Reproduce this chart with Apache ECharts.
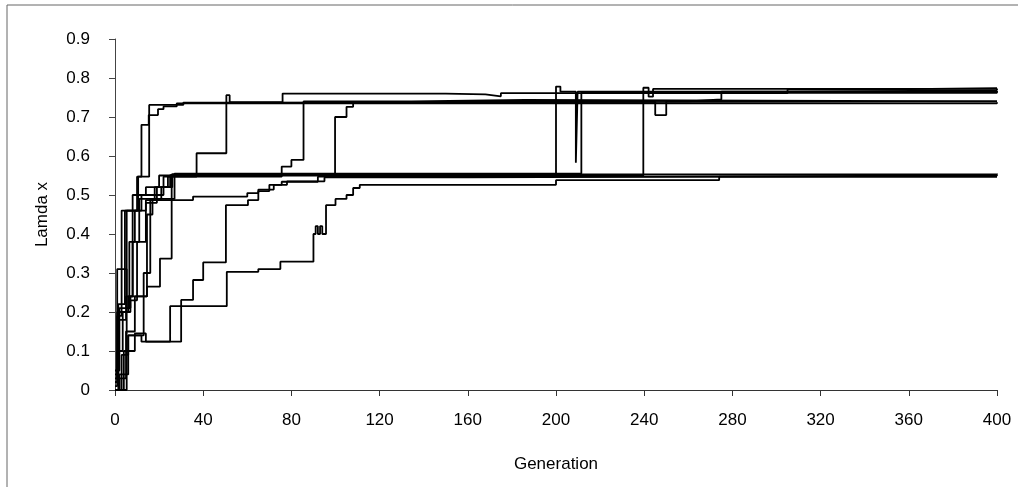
<!DOCTYPE html>
<html>
<head>
<meta charset="utf-8">
<script src="https://cdn.jsdelivr.net/npm/echarts@6/dist/echarts.min.js"></script>
<style>
  html, body { margin: 0; padding: 0; background: #fff; }
  #chart { width: 1026px; height: 492px; }
</style>
</head>
<body>
<div id="chart"></div>
<script>
// Lamda x of the best individual per generation, one array per run.
// Each point [generation, value] is the value held from that generation on.
const run1 = [[0,0.03],[1,0.19],[3,0.46],[10,0.547],[15.5,0.731],[31,0.737],[60,0.74],[400,0.741]];
const run2 = [[0,0.01],[1,0.31],[5.3,0.21],[6.5,0.38],[9,0.46],[10.5,0.547],[12,0.68],[15.3,0.705],[19.5,0.72],[22,0.727],[28,0.735],[400,0.738]];
const run3 = [[0,0],[1.5,0.18],[5,0.24],[8,0.46],[11,0.49],[18,0.5],[22,0.547],[37,0.607],[50.5,0.756],[52,0.738],[76,0.76],[150,0.758],[168,0.753],[175,0.761],[305,0.771],[350,0.774],[400,0.774]];
const run4 = [[0,0],[5.3,0.46],[9,0.46],[12,0.5],[18,0.52],[24,0.547],[75.6,0.573],[80,0.59],[85.5,0.74],[134.5,0.744],[186,0.74],[400,0.741]];
const run5 = [[0,0.05],[2,0.21],[7,0.24],[14.5,0.45],[17,0.49],[21,0.52],[25,0.551],[99.8,0.70],[105,0.726],[108,0.739],[245,0.705],[250,0.74],[260,0.745],[275,0.765],[305,0.768],[400,0.769]];
const run6 = [[0,0.02],[1,0.1],[3.5,0.2],[7,0.23],[10,0.38],[14,0.48],[19,0.52],[26,0.553],[200,0.778],[202,0.765],[209,0.583],[209.8,0.765],[400,0.768]];
const run7 = [[0,0],[2,0.04],[6,0.14],[12,0.14],[13,0.3],[16,0.49],[27,0.555],[211.5,0.762],[400,0.766]];
const run8 = [[0,0.02],[1.5,0.22],[4.5,0.46],[8,0.5],[14,0.52],[20,0.55],[239.6,0.775],[242,0.752],[244,0.772],[400,0.769]];
const run9 = [[0,0],[3,0.09],[6,0.14],[12,0.124],[25,0.215],[50.7,0.303],[65,0.31],[75,0.329],[90,0.40],[91,0.42],[92,0.40],[93,0.42],[94,0.40],[95.7,0.474],[100,0.49],[105,0.50],[108,0.518],[111,0.526],[200,0.538],[274,0.547],[400,0.547]];
const run10 = [[0,0],[4,0.1],[9,0.145],[14,0.124],[30,0.231],[35.4,0.282],[40,0.327],[50.3,0.474],[60.3,0.487],[65,0.51],[70,0.526],[75.6,0.534],[92,0.547],[400,0.548]];
const run11 = [[0,0.04],[1,0.2],[6,0.24],[8,0.38],[11,0.46],[14,0.487],[35.4,0.496],[60,0.505],[65,0.514],[72,0.526],[78,0.535],[95,0.545],[160,0.55],[400,0.552]];
const run12 = [[0,0],[2,0.03],[5,0.15],[9,0.24],[14.5,0.265],[20.4,0.337],[25.7,0.553],[400,0.555]];

const runs = [run1, run2, run3, run4, run5, run6, run7, run8, run9, run10, run11, run12];

const xTitle = 'Generation';
const yTitle = 'Lamda x';

const font = '"Liberation Sans", Arial, sans-serif';
const chart = echarts.init(document.getElementById('chart'), null, { renderer: 'canvas' });

chart.setOption({
  animation: false,
  backgroundColor: '#ffffff',
  grid: { left: 115, right: 29, top: 39, bottom: 102, containLabel: false },
  xAxis: {
    type: 'value',
    min: 0, max: 400, interval: 40,
    name: xTitle,
    nameLocation: 'middle',
    nameGap: 66,
    nameTextStyle: { fontFamily: font, fontSize: 17, color: '#000' },
    axisLine: { show: true, lineStyle: { color: '#333', width: 1 } },
    axisTick: { show: true, length: 6, lineStyle: { color: '#333' } },
    axisLabel: { fontFamily: font, fontSize: 17, color: '#000', margin: 22 },
    splitLine: { show: false }
  },
  yAxis: {
    type: 'value',
    min: 0, max: 0.9, interval: 0.1,
    name: yTitle,
    nameLocation: 'middle',
    nameGap: 64,
    nameRotate: 90,
    nameTextStyle: { fontFamily: font, fontSize: 17, color: '#000' },
    axisLine: { show: true, lineStyle: { color: '#444', width: 1 } },
    axisTick: { show: true, length: 6, lineStyle: { color: '#444' } },
    axisLabel: {
      fontFamily: font, fontSize: 17, color: '#000', margin: 25,
      formatter: v => (v === 0 ? '0' : v.toFixed(1))
    },
    splitLine: { show: false }
  },
  graphic: [
    { type: 'line', shape: { x1: 7, y1: 5, x2: 1018, y2: 5 }, style: { stroke: '#666', lineWidth: 1 } },
    { type: 'line', shape: { x1: 7, y1: 5, x2: 7, y2: 487 }, style: { stroke: '#666', lineWidth: 1 } }
  ],
  series: runs.map((d, i) => ({
    name: 'run ' + (i + 1),
    type: 'line',
    step: 'end',
    data: d,
    showSymbol: false,
    lineStyle: { color: '#000', width: 1.8 },
    silent: true
  }))
});
</script>
</body>
</html>
